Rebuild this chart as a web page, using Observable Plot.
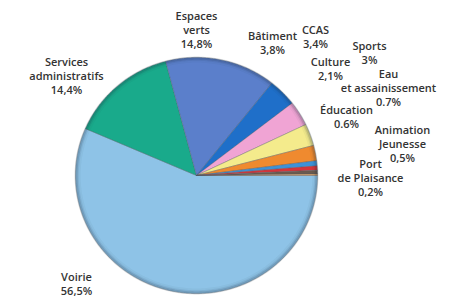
<!DOCTYPE html>
<html>
<head>
<meta charset="utf-8">
<script src="https://cdn.jsdelivr.net/npm/d3@7"></script>
<script src="https://cdn.jsdelivr.net/npm/@observablehq/plot@0.6"></script>
<style>
  html, body { margin: 0; padding: 0; background: #fff; }
  #chart svg { display: block; }
</style>
</head>
<body>
<div id="chart"></div>
<script>
// Data
const categories = ["Voirie", "Services administratifs", "Espaces verts", "Bâtiment", "CCAS", "Sports", "Culture", "Eau et assainissement", "Éducation", "Animation Jeunesse", "Port de Plaisance"];
const shares = [56.5, 14.4, 14.8, 3.8, 3.4, 3.0, 2.1, 0.7, 0.6, 0.5, 0.2];
const labelTexts = [
  "Voirie\n56,5%",
  "Services\nadministratifs\n14,4%",
  "Espaces\nverts\n14,8%",
  "Bâtiment\n3,8%",
  "CCAS\n3,4%",
  "Sports\n3%",
  "Culture\n2,1%",
  "Eau\net assainissement\n0.7%",
  "Éducation\n0.6%",
  "Animation\nJeunesse\n0,5%",
  "Port\nde Plaisance\n0,2%"
];

// Styles / layout (not data)
const colors = ["#8ec3e7", "#19aa8b", "#5b7fcb", "#1f6fc9", "#f0a4d4", "#f4eb8c", "#ef8a2f", "#3d92d8", "#d6353b", "#6b5a4e", "#e2a464"];
const W = 450, H = 299;
const cx = 196, cy = 175, rx = 121, ry = 118;
// label block centres in pixels
const labelPos = [
  [76, 283], [66, 75], [196, 29], [272, 42], [315, 36], [369, 52],
  [330, 68], [388, 87], [346, 116], [402, 143], [370, 177]
];

const data = categories.map((c, i) => ({name: c, value: shares[i], color: colors[i], label: labelTexts[i]}));
const arcs = d3.pie().sort(null).value(d => d.value)
  .startAngle(Math.PI / 2).endAngle(Math.PI / 2 + 2 * Math.PI)(data);

function slicePoly(a) {
  const pts = [{x: 0, y: 0}];
  const n = Math.max(2, Math.ceil((a.endAngle - a.startAngle) / 0.01));
  for (let k = 0; k <= n; k++) {
    const t = a.startAngle + (a.endAngle - a.startAngle) * k / n;
    pts.push({x: Math.sin(t), y: Math.cos(t)});
  }
  pts.push({x: 0, y: 0});
  return pts;
}

const outline = d3.range(0, 361).map(k => ({x: Math.sin(k * Math.PI / 180), y: Math.cos(k * Math.PI / 180)}));
const ring = (s) => outline.map(p => ({x: p.x * s, y: p.y * s}));

const labels = data.map((d, i) => ({
  text: d.label,
  x: (labelPos[i][0] - cx) / rx,
  y: (cy - labelPos[i][1]) / ry
}));

const marks = [];
arcs.forEach(a => {
  marks.push(Plot.line(slicePoly(a), {x: "x", y: "y", fill: a.data.color, stroke: "#4d5660", strokeWidth: 0.5, strokeOpacity: 0.7, curve: "linear"}));
});
// rim shading
[[0.995, 3, 0.18], [0.985, 3, 0.08], [0.97, 3, 0.04]].forEach(([s, w, o]) => {
  marks.push(Plot.line(ring(s), {x: "x", y: "y", stroke: "#1a2a3a", strokeWidth: w, strokeOpacity: o}));
});
marks.push(Plot.text(labels, {
  x: "x", y: "y", text: "text", fill: "#333",
  fontSize: 11, fontFamily: "Open Sans", fontWeight: 600,
  lineHeight: 1.26, lineAnchor: "middle", textAnchor: "middle"
}));

const chart = Plot.plot({
  width: W, height: H,
  margin: 0,
  x: {domain: [-cx / rx, (W - cx) / rx], range: [0, W], axis: null},
  y: {domain: [(cy - H) / ry, cy / ry], range: [H, 0], axis: null},
  style: {background: "#fff"},
  marks
});
document.getElementById("chart").appendChild(chart);
</script>
</body>
</html>
